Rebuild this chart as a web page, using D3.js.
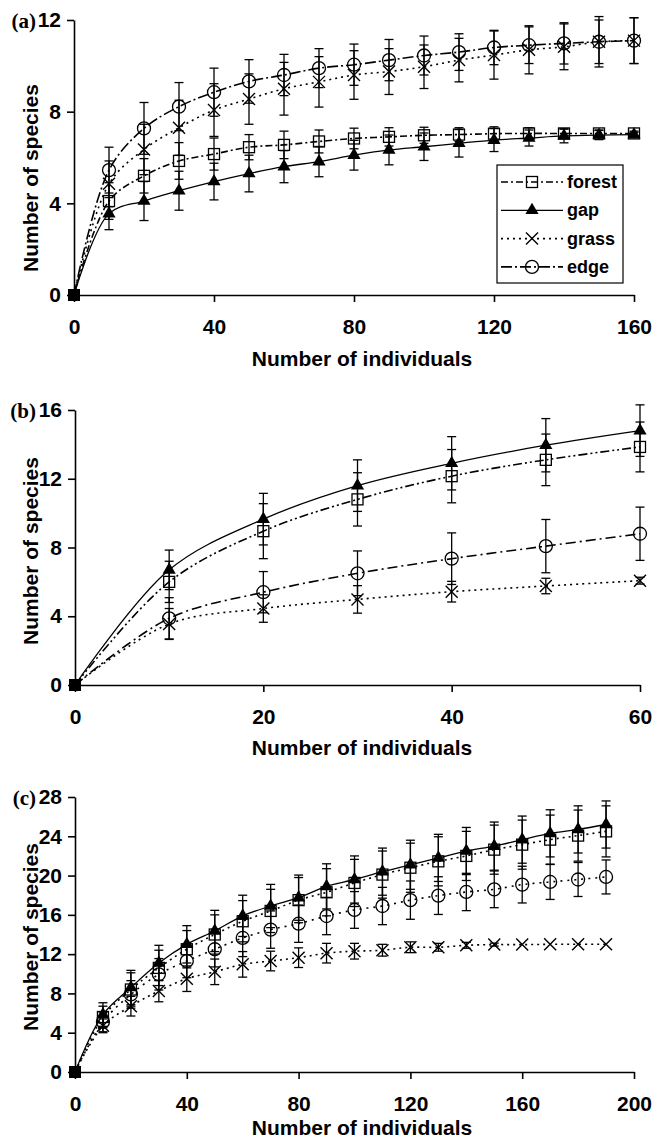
<!DOCTYPE html>
<html>
<head>
<meta charset="utf-8">
<script src="https://cdn.jsdelivr.net/npm/d3@7"></script>
<style>
body { margin: 0; background: #fff; }
svg text { font-family: "Liberation Sans", Arial, sans-serif; font-weight: bold; fill: #000; }
</style>
</head>
<body>
<script>
var w = 653;
var h = 1143;

var seriesNames = ["forest", "gap", "grass", "edge"];

// panel (a)
var aX = [0, 10, 20, 30, 40, 50, 60, 70, 80, 90, 100, 110, 120, 130, 140, 150, 160];
var aForest = [0, 4.1, 5.2, 5.85, 6.15, 6.45, 6.55, 6.7, 6.83, 6.9, 6.97, 7.0, 7.04, 7.05, 7.05, 7.05, 7.05];
var aForestErr = [0, 0.8, 0.75, 0.8, 0.7, 0.55, 0.6, 0.5, 0.45, 0.4, 0.35, 0.3, 0.3, 0.25, 0.2, 0.15, 0.1];
var aGap = [0, 3.55, 4.1, 4.55, 4.95, 5.3, 5.6, 5.82, 6.1, 6.33, 6.47, 6.62, 6.76, 6.85, 6.94, 6.98, 7.0];
var aGapErr = [0, 0.7, 0.85, 0.85, 0.8, 0.8, 0.7, 0.66, 0.65, 0.65, 0.6, 0.6, 0.5, 0.35, 0.3, 0.2, 0.1];
var aGrass = [0, 4.85, 6.35, 7.3, 8.07, 8.55, 9.0, 9.3, 9.6, 9.75, 9.96, 10.25, 10.47, 10.7, 10.83, 11.05, 11.1];
var aGrassErr = [0, 1.0, 1.1, 1.2, 1.15, 1.1, 1.15, 1.1, 1.06, 1.0, 0.95, 0.95, 1.05, 1.05, 1.0, 1.1, 1.0];
var aEdge = [0, 5.45, 7.27, 8.22, 8.85, 9.32, 9.6, 9.9, 10.05, 10.25, 10.45, 10.6, 10.8, 10.9, 10.98, 11.05, 11.1];
var aEdgeErr = [0, 1.0, 1.13, 1.05, 1.05, 0.95, 0.9, 0.85, 0.9, 0.9, 0.85, 0.8, 0.75, 0.8, 0.9, 0.95, 1.0];
var aXTicks = [0, 40, 80, 120, 160];
var aYTicks = [0, 4, 8, 12];

// panel (b)
var bX = [0, 10, 20, 30, 40, 50, 60];
var bForest = [0, 6.0, 8.95, 10.8, 12.15, 13.1, 13.85];
var bForestErr = [0, 1.2, 1.6, 1.55, 1.55, 1.5, 1.45];
var bGap = [0, 6.7, 9.65, 11.6, 12.9, 13.95, 14.8];
var bGapErr = [0, 1.15, 1.5, 1.5, 1.55, 1.55, 1.5];
var bGrass = [0, 3.55, 4.45, 4.98, 5.43, 5.76, 6.07];
var bGrassErr = [0, 0.9, 0.8, 0.8, 0.6, 0.45, 0.2];
var bEdge = [0, 3.88, 5.4, 6.5, 7.35, 8.08, 8.8];
var bEdgeErr = [0, 1.2, 1.2, 1.3, 1.5, 1.55, 1.55];
var bXTicks = [0, 20, 40, 60];
var bYTicks = [0, 4, 8, 12, 16];

// panel (c)
var cX = [0, 10, 20, 30, 40, 50, 60, 70, 80, 90, 100, 110, 120, 130, 140, 150, 160, 170, 180, 190];
var cForest = [0, 5.6, 8.4, 10.6, 12.5, 14.0, 15.35, 16.4, 17.5, 18.3, 19.25, 20.1, 20.8, 21.45, 22.0, 22.64, 23.15, 23.66, 24.07, 24.5];
var cForestErr = [0, 1.1, 1.7, 1.8, 1.9, 2.0, 2.1, 2.2, 2.3, 2.4, 2.4, 2.4, 2.5, 2.5, 2.5, 2.5, 2.5, 2.5, 2.6, 2.6];
var cGap = [0, 5.85, 8.6, 11.1, 13.0, 14.36, 15.9, 16.9, 17.75, 18.9, 19.6, 20.4, 21.1, 21.8, 22.5, 23.0, 23.66, 24.3, 24.7, 25.2];
var cGapErr = [0, 1.2, 1.75, 1.8, 1.9, 2.1, 2.1, 2.2, 2.3, 2.3, 2.4, 2.4, 2.5, 2.4, 2.4, 2.45, 2.4, 2.4, 2.4, 2.4];
var cGrass = [0, 4.7, 6.7, 8.25, 9.5, 10.2, 10.96, 11.3, 11.64, 12.1, 12.3, 12.4, 12.7, 12.7, 12.9, 12.97, 12.97, 13.0, 13.0, 13.0];
var cGrassErr = [0, 0.7, 1.0, 1.1, 1.3, 1.3, 1.3, 1.0, 1.0, 1.0, 0.8, 0.6, 0.55, 0.4, 0.3, 0.15, 0, 0, 0, 0];
var cEdge = [0, 5.1, 7.9, 9.95, 11.3, 12.5, 13.65, 14.5, 15.1, 15.88, 16.5, 16.9, 17.5, 17.96, 18.33, 18.6, 19.08, 19.35, 19.6, 19.86];
var cEdgeErr = [0, 1.0, 1.4, 1.6, 1.7, 1.8, 1.9, 1.9, 1.9, 1.9, 1.87, 1.9, 1.95, 1.92, 1.9, 1.87, 1.87, 1.78, 1.73, 1.73];
var cXTicks = [0, 40, 80, 120, 160, 200];
var cYTicks = [0, 4, 8, 12, 16, 20, 24, 28];

var svg = d3.select("body").append("svg").attr("width", w).attr("height", h);

function marker(sel, type) {
    if (type == "square") {
        sel.append("rect").attr("x", -5.5).attr("y", -5.5).attr("width", 11).attr("height", 11)
            .attr("fill", "none").attr("stroke", "#000").attr("stroke-width", 1.3);
    } else if (type == "triangle") {
        sel.append("path").attr("d", d3.symbol().type(d3.symbolTriangle).size(75)())
            .attr("fill", "#000");
    } else if (type == "cross") {
        sel.append("path").attr("d", "M-6,-6L6,6M-6,6L6,-6")
            .attr("fill", "none").attr("stroke", "#000").attr("stroke-width", 1.4);
    } else {
        sel.append("circle").attr("r", 6.5)
            .attr("fill", "none").attr("stroke", "#000").attr("stroke-width", 1.3);
    }
}

function drawPanel(p) {
    var x = d3.scaleLinear().domain([0, p.xMax]).range([p.left, p.right]);
    var y = d3.scaleLinear().domain([0, p.yMax]).range([p.bottom, p.top]);
    var g = svg.append("g");

    var xAxis = g.append("g").attr("transform", "translate(0," + p.bottom + ")")
        .call(d3.axisBottom(x).tickValues(p.xTicks).tickSize(7).tickSizeOuter(0).tickPadding(17));
    var yAxis = g.append("g").attr("transform", "translate(" + p.left + ",0)")
        .call(d3.axisLeft(y).tickValues(p.yTicks).tickSize(7).tickSizeOuter(0).tickPadding(6));
    [xAxis, yAxis].forEach(function (a) {
        a.selectAll("path, line").attr("stroke", "#000").attr("stroke-width", 1.6);
        a.selectAll("text").attr("font-size", 21).attr("font-family", "Liberation Sans, Arial, sans-serif")
            .attr("font-weight", "bold").attr("fill", "#000");
    });

    g.append("text").attr("x", 36).attr("y", p.top + 7.5)
        .attr("text-anchor", "end").attr("font-size", 21)
        .style("font-family", "'Liberation Serif', 'Times New Roman', serif")
        .text(p.label);

    g.append("text").attr("x", 362).attr("y", p.xLabelY)
        .attr("text-anchor", "middle").attr("font-size", 21)
        .text("Number of individuals");

    g.append("text").attr("transform", "translate(38," + p.yLabelMid + ") rotate(-90)")
        .attr("text-anchor", "middle").attr("font-size", 21)
        .text("Number of species");

    var line = d3.line()
        .x(function (d) { return x(d[0]); })
        .y(function (d) { return y(d[1]); })
        .curve(d3.curveCatmullRom.alpha(0.5));

    p.series.forEach(function (s) {
        var pts = p.xs.map(function (v, i) { return [v, s.vals[i], s.errs[i]]; });

        var eb = g.append("g").attr("stroke", "#000").attr("stroke-width", 1.3);
        pts.forEach(function (d) {
            if (!d[2]) return;
            var y1 = y(d[1] - d[2]), y2 = y(d[1] + d[2]), xx = x(d[0]);
            eb.append("line").attr("x1", xx).attr("x2", xx).attr("y1", y1).attr("y2", y2);
            eb.append("line").attr("x1", xx - 4.5).attr("x2", xx + 4.5).attr("y1", y1).attr("y2", y1);
            eb.append("line").attr("x1", xx - 4.5).attr("x2", xx + 4.5).attr("y1", y2).attr("y2", y2);
        });

        g.append("path").datum(pts).attr("d", line)
            .attr("fill", "none").attr("stroke", "#000")
            .attr("stroke-width", s.dash ? 1.6 : 1.3)
            .attr("stroke-dasharray", s.dash);

        pts.forEach(function (d) {
            var m = g.append("g").attr("transform", "translate(" + x(d[0]) + "," + y(d[1]) + ")");
            if (d[0] == 0) {
                m.append("rect").attr("x", -6).attr("y", -6).attr("width", 12).attr("height", 12).attr("fill", "#000");
            } else {
                marker(m, s.marker);
            }
        });
    });

    if (p.legend) {
        var lg = g.append("g");
        lg.append("rect").attr("x", 497).attr("y", 165).attr("width", 126).attr("height", 118)
            .attr("fill", "#fff").attr("stroke", "#000").attr("stroke-width", 1.2);
        p.series.forEach(function (s, i) {
            var ly = 182 + i * 28.3;
            lg.append("line").attr("x1", 501).attr("x2", 563).attr("y1", ly).attr("y2", ly)
                .attr("stroke", "#000").attr("stroke-width", s.dash ? 1.6 : 1.3)
                .attr("stroke-dasharray", s.dash);
            var m = lg.append("g").attr("transform", "translate(532," + ly + ")");
            marker(m, s.marker);
            lg.append("text").attr("x", 567).attr("y", ly + 6).attr("font-size", 18).text(s.name);
        });
    }
}

drawPanel({
    label: "(a)", xs: aX, xMax: 160, yMax: 12, xTicks: aXTicks, yTicks: aYTicks,
    left: 74, right: 634, top: 20, bottom: 295, xLabelY: 366, yLabelMid: 178, legend: true,
    series: [
        { name: seriesNames[0], vals: aForest, errs: aForestErr, marker: "square", dash: "7,3,2,3" },
        { name: seriesNames[1], vals: aGap, errs: aGapErr, marker: "triangle", dash: null },
        { name: seriesNames[2], vals: aGrass, errs: aGrassErr, marker: "cross", dash: "2,4" },
        { name: seriesNames[3], vals: aEdge, errs: aEdgeErr, marker: "circle", dash: "11,3,2,3" }
    ]
});

drawPanel({
    label: "(b)", xs: bX, xMax: 60, yMax: 16, xTicks: bXTicks, yTicks: bYTicks,
    left: 75, right: 640, top: 410, bottom: 685, xLabelY: 755, yLabelMid: 551, legend: false,
    series: [
        { name: seriesNames[0], vals: bForest, errs: bForestErr, marker: "square", dash: "9,3,2,3,2,3" },
        { name: seriesNames[1], vals: bGap, errs: bGapErr, marker: "triangle", dash: null },
        { name: seriesNames[2], vals: bGrass, errs: bGrassErr, marker: "cross", dash: "2,4" },
        { name: seriesNames[3], vals: bEdge, errs: bEdgeErr, marker: "circle", dash: "10,4,2,4" }
    ]
});

drawPanel({
    label: "(c)", xs: cX, xMax: 200, yMax: 28, xTicks: cXTicks, yTicks: cYTicks,
    left: 75, right: 634, top: 797, bottom: 1072, xLabelY: 1135, yLabelMid: 937, legend: false,
    series: [
        { name: seriesNames[0], vals: cForest, errs: cForestErr, marker: "square", dash: "2,4" },
        { name: seriesNames[1], vals: cGap, errs: cGapErr, marker: "triangle", dash: null },
        { name: seriesNames[2], vals: cGrass, errs: cGrassErr, marker: "cross", dash: "2,4" },
        { name: seriesNames[3], vals: cEdge, errs: cEdgeErr, marker: "circle", dash: "2,5" }
    ]
});
</script>
</body>
</html>
